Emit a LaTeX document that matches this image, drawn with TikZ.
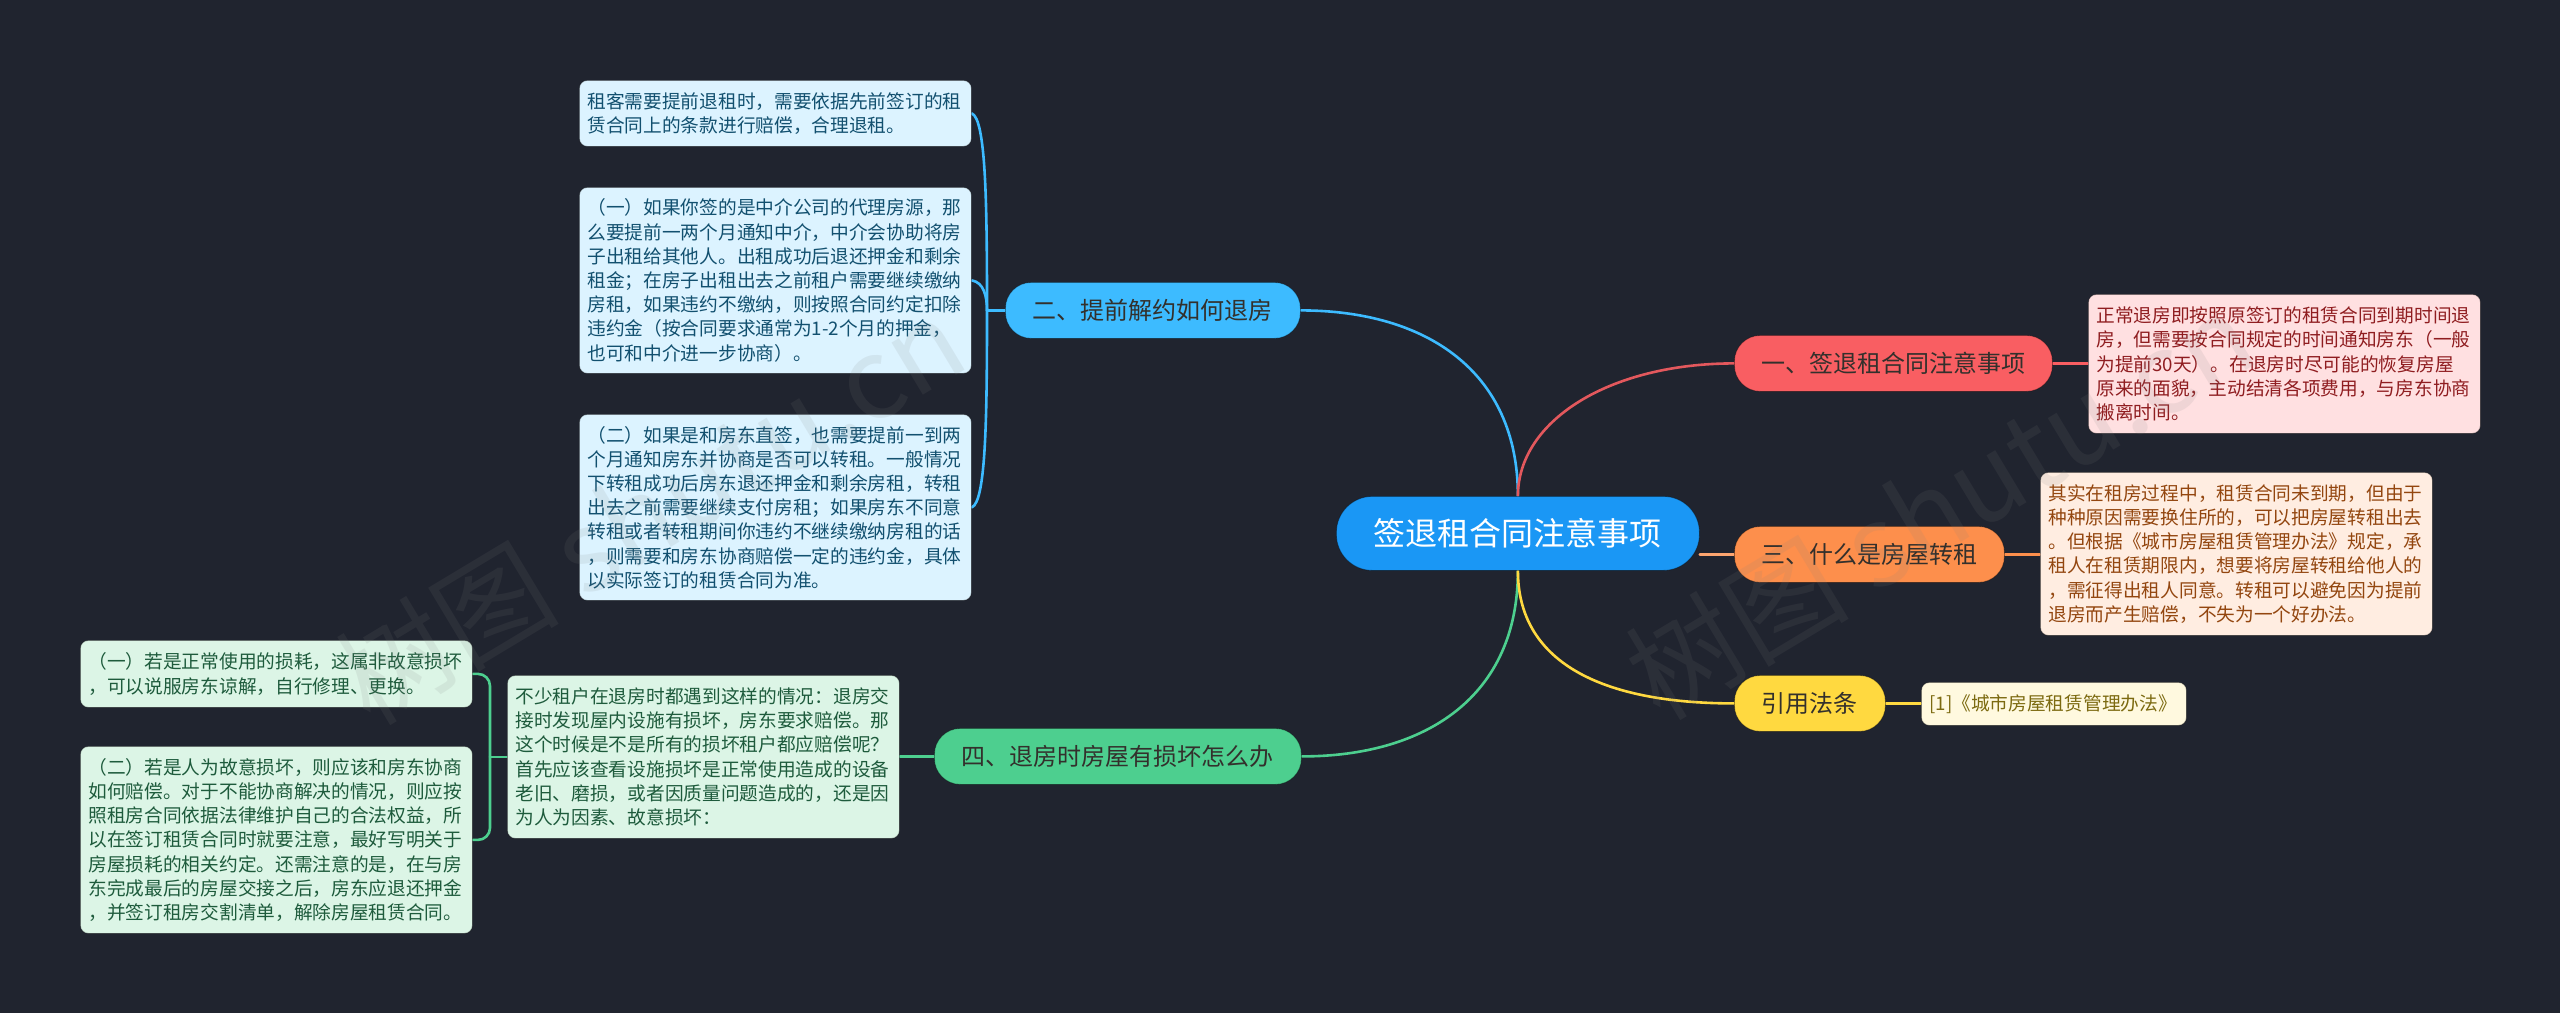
\documentclass[tikz,border=0pt]{standalone}
\usepackage{fontspec}
\setmainfont{Noto Sans CJK SC}
\definecolor{bgc}{HTML}{20242F}
\definecolor{rootc}{HTML}{1A97F5}
\definecolor{bluec}{HTML}{3DBBFF}
\definecolor{redc}{HTML}{F95E62}
\definecolor{orangec}{HTML}{FD8F4C}
\definecolor{yellowc}{HTML}{FFD940}
\definecolor{greenc}{HTML}{4DCF8F}
\definecolor{bluel}{HTML}{DCF3FF}
\definecolor{redl}{HTML}{FFE0E1}
\definecolor{orangel}{HTML}{FFEDE1}
\definecolor{yellowl}{HTML}{FFF9DF}
\definecolor{greenl}{HTML}{DCF5E6}
\definecolor{bluet}{HTML}{12506F}
\definecolor{redt}{HTML}{8F1D20}
\definecolor{oranget}{HTML}{93460F}
\definecolor{yellowt}{HTML}{7C6A10}
\definecolor{greent}{HTML}{1E5B3C}
\definecolor{brancht}{HTML}{33302C}
\pgfdeclarelayer{backdrop}
\pgfdeclarelayer{wires}
\pgfsetlayers{backdrop,wires,main}
\tikzset{
  x=1pt,y=-1pt,
  leaf/.style={draw=black,draw opacity=.35,line width=.8pt,rounded corners=8pt,anchor=north west,align=left,
    inner xsep=8pt,inner ysep=0pt,text width=376pt,font=\fontsize{18.7}{24.2}\selectfont},
  branch/.style={draw=black,draw opacity=.35,line width=.8pt,rounded corners=26pt,anchor=north west,align=center,
    inner sep=0pt,minimum height=56pt,text=brancht,font=\fontsize{24}{30}\selectfont},
  wire/.style={line width=2.6pt,line cap=round},
  wmark/.style={rotate=31,text=gray,opacity=.12,font=\fontsize{112}{120}\selectfont}
}
\begin{document}
\begin{tikzpicture}
\begin{pgfonlayer}{backdrop}
\useasboundingbox[fill=bgc] (0,0) rectangle (2560,1013);
\end{pgfonlayer}

% root and branches
\node[branch,fill=rootc,text=white,rounded corners=36pt,minimum width=363pt,minimum height=74pt,font=\fontsize{32}{38}\selectfont] (root) at (1336,496) {签退租合同注意事项};
\node[branch,fill=bluec,minimum width=295pt] (b2) at (1005,282) {二、提前解约如何退房};
\node[branch,fill=greenc,minimum width=367pt] (b4) at (934,728) {四、退房时房屋有损坏怎么办};
\node[branch,fill=redc,minimum width=318pt] (b1) at (1734,335) {一、签退租合同注意事项};
\node[branch,fill=orangec,minimum width=270pt] (b3) at (1734,526) {三、什么是房屋转租};
\node[branch,fill=yellowc,minimum width=151pt] (b5) at (1734,675) {引用法条};

% leaves: blue
\node[leaf,fill=bluel,text=bluet,minimum height=66pt] (a1) at (579,80) {租客需要提前退租时，需要依据先前签订的租\\赁合同上的条款进行赔偿，合理退租。};
\node[leaf,fill=bluel,text=bluet,minimum height=186pt] (a2) at (579,187) {（一）如果你签的是中介公司的代理房源，那\\么要提前一两个月通知中介，中介会协助将房\\子出租给其他人。出租成功后退还押金和剩余\\租金；在房子出租出去之前租户需要继续缴纳\\房租，如果违约不缴纳，则按照合同约定扣除\\违约金（按合同要求通常为1-2个月的押金，\\也可和中介进一步协商）。};
\node[leaf,fill=bluel,text=bluet,minimum height=186pt] (a3) at (579,414) {（二）如果是和房东直签，也需要提前一到两\\个月通知房东并协商是否可以转租。一般情况\\下转租成功后房东退还押金和剩余房租，转租\\出去之前需要继续支付房租；如果房东不同意\\转租或者转租期间你违约不继续缴纳房租的话\\，则需要和房东协商赔偿一定的违约金，具体\\以实际签订的租赁合同为准。};

% leaves: green
\node[leaf,fill=greenl,text=greent,minimum height=163pt] (g0) at (507,675) {不少租户在退房时都遇到这样的情况：退房交\\接时发现屋内设施有损坏，房东要求赔偿。那\\这个时候是不是所有的损坏租户都应赔偿呢？\\首先应该查看设施损坏是正常使用造成的设备\\老旧、磨损，或者因质量问题造成的，还是因\\为人为因素、故意损坏：};
\node[leaf,fill=greenl,text=greent,minimum height=67pt] (g1) at (80,640) {（一）若是正常使用的损耗，这属非故意损坏\\，可以说服房东谅解，自行修理、更换。};
\node[leaf,fill=greenl,text=greent,minimum height=187pt] (g2) at (80,746) {（二）若是人为故意损坏，则应该和房东协商\\如何赔偿。对于不能协商解决的情况，则应按\\照租房合同依据法律维护自己的合法权益，所\\以在签订租赁合同时就要注意，最好写明关于\\房屋损耗的相关约定。还需注意的是，在与房\\东完成最后的房屋交接之后，房东应退还押金\\，并签订租房交割清单，解除房屋租赁合同。};

% leaves: right
\node[leaf,fill=redl,text=redt,minimum height=139pt] (r1) at (2088,294) {正常退房即按照原签订的租赁合同到期时间退\\房，但需要按合同规定的时间通知房东（一般\\为提前30天）。在退房时尽可能的恢复房屋\\原来的面貌，主动结清各项费用，与房东协商\\搬离时间。};
\node[leaf,fill=orangel,text=oranget,minimum height=163pt] (r3) at (2040,472) {其实在租房过程中，租赁合同未到期，但由于\\种种原因需要换住所的，可以把房屋转租出去\\。但根据《城市房屋租赁管理办法》规定，承\\租人在租赁期限内，想要将房屋转租给他人的\\，需征得出租人同意。转租可以避免因为提前\\退房而产生赔偿，不失为一个好办法。};
\node[leaf,fill=yellowl,text=yellowt,text width=249pt,minimum height=43pt] (r5) at (1921,682) {[1]《城市房屋租赁管理办法》};

\begin{pgfonlayer}{wires}
% connectors from root
\draw[wire,color=bluec] (root.north) .. controls +(0,-125) and +(125,0) .. (b2.east);
\draw[wire,color=redc!90!bgc] (root.north) .. controls +(0,-75) and +(-125,0) .. (b1.west);
\draw[wire,color=greenc] (root.south) .. controls +(0,125) and +(125,0) .. (b4.east);
\draw[wire,color=yellowc] (root.south) .. controls +(0,90) and +(-135,0) .. (b5.west);
\draw[wire,color=orangec!80!white] (root.east |- b3.west) -- (b3.west);

% connectors to leaves
\coordinate (bus2) at ([xshift=-18pt]b2.west);
\draw[wire,color=bluec] (b2.west) -- (bus2);
\draw[wire,color=bluec] (a1.east) .. controls +(14,6) and +(0,-110) .. (bus2);
\draw[wire,color=bluec] (a2.east) .. controls +(12,2) and +(0,-14) .. (bus2);
\draw[wire,color=bluec] (a3.east) .. controls +(14,-6) and +(0,110) .. (bus2);
\coordinate (bus4) at ([xshift=-17pt]g0.west);
\draw[wire,color=greenc] (b4.west) -- (g0.east |- b4.west);
\draw[wire,color=greenc] (g0.west) -- (bus4);
\draw[wire,color=greenc,rounded corners=12pt] (g1.east) -| (bus4);
\draw[wire,color=greenc,rounded corners=12pt] (g2.east) -| (bus4);
\draw[wire,color=redc] (b1.east) -- (b1.east -| r1.west);
\draw[wire,color=orangec] (b3.east) -- (b3.east -| r3.west);
\draw[wire,color=yellowc] (b5.east) -- (b5.east -| r5.west);
\end{pgfonlayer}

% watermarks
\node[wmark] (w1) at (650,510) {树图 shutu.cn};
\node[wmark] (w2) at (1940,505) {树图 shutu.cn};
\end{tikzpicture}
\end{document}
